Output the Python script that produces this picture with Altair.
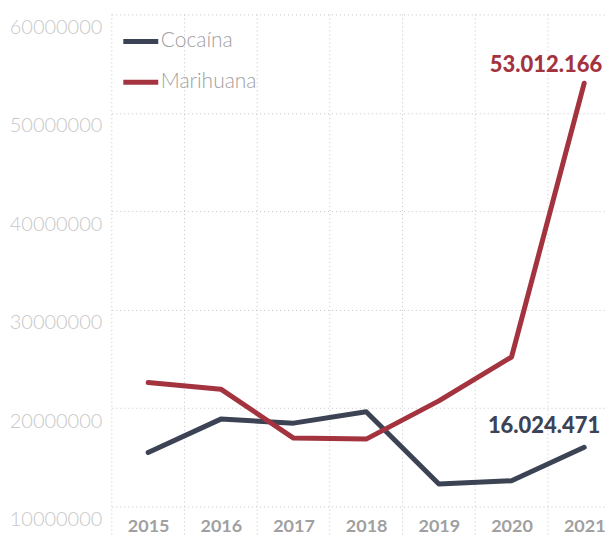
import altair as alt
import pandas as pd

years = [2015, 2016, 2017, 2018, 2019, 2020, 2021]
cocaina = [15_500_000, 18_890_000, 18_480_000, 19_630_000, 12_300_000, 12_630_000, 16_024_471]
marihuana = [22_600_000, 21_930_000, 16_960_000, 16_860_000, 20_740_000, 25_200_000, 53_012_166]
series = ["Cocaína", "Marihuana"]
colors = ["#3b4354", "#a3343f"]
y_ticks = [10_000_000, 20_000_000, 30_000_000, 40_000_000, 50_000_000, 60_000_000]
x_grid = [2014.5, 2015.5, 2016.5, 2017.5, 2018.5, 2019.5, 2020.5]

rows = []
for s, vals in zip(series, [cocaina, marihuana]):
    for yr, v in zip(years, vals):
        rows.append({"year": yr, "serie": s, "valor": v,
                     "etiqueta": f"{v:,}".replace(",", ".")})
df = pd.DataFrame(rows)
grid_df = pd.DataFrame({"year": x_grid})

x_scale = alt.Scale(domain=[2014.5, 2021.286], nice=False, zero=False)

x_enc = alt.X(
    "year:Q",
    title=None,
    scale=x_scale,
    axis=alt.Axis(
        values=years, format="d",
        ticks=False, tickSize=0, domain=False, grid=False,
        labelFont="Lato", labelFontWeight="bold", labelFontSize=18,
        labelColor="#a0a0a0", labelPadding=-18, labelAngle=0,
        labelBaseline="top",
    ),
)
y_enc = alt.Y(
    "valor:Q",
    title=None,
    scale=alt.Scale(domain=[7_060_000, 60_000_000], nice=False, zero=False),
    axis=alt.Axis(
        values=y_ticks, format="d", ticks=False, tickSize=0, domain=False,
        grid=True, gridDash=[1, 3], gridColor="#c4c4c4", gridWidth=1,
        labelFont="Lato", labelFontWeight=300, labelFontSize=20,
        labelColor="#c8c8c8", labelPadding=10, labelBaseline="top",
        labelOffset=3, labelFlush=False,
    ),
)
color_enc = alt.Color(
    "serie:N", title=None,
    scale=alt.Scale(domain=series, range=colors),
    legend=alt.Legend(
        orient="none", legendX=9, legendY=7, padding=0,
        symbolType="stroke", symbolSize=1225, symbolStrokeWidth=5,
        labelFont="Lato", labelFontWeight=300, labelFontSize=21,
        labelColor="#a0a0a0", labelOffset=0, rowPadding=11,
    ),
)

grid = alt.Chart(grid_df).mark_rule(
    color="#c4c4c4", strokeWidth=1, strokeDash=[1, 3]
).encode(x=alt.X("year:Q", scale=x_scale))

base = alt.Chart(df)
lines = base.mark_line(strokeWidth=5, strokeCap="round", strokeJoin="round").encode(
    x=x_enc, y=y_enc, color=color_enc
)
text_mar = base.transform_filter(
    (alt.datum.serie == "Marihuana") & (alt.datum.year == 2021)
).mark_text(
    font="Lato", fontWeight=900, fontSize=22, color="#a3343f",
    dx=18, dy=-18, align="right", baseline="middle",
).encode(x="year:Q", y="valor:Q", text="etiqueta:N")
text_coc = base.transform_filter(
    (alt.datum.serie == "Cocaína") & (alt.datum.year == 2021)
).mark_text(
    font="Lato", fontWeight=900, fontSize=22, color="#3b4354",
    dx=16, dy=-21, align="right", baseline="middle",
).encode(x="year:Q", y="valor:Q", text="etiqueta:N")

chart = alt.layer(grid, lines, text_mar, text_coc).properties(
    width=494, height=522,
    padding={"left": 1, "top": 5, "right": 0, "bottom": 0},
    background="white",
).configure_view(stroke=None)

chart.save("out.html", embed_options={"renderer": "svg", "actions": False})
